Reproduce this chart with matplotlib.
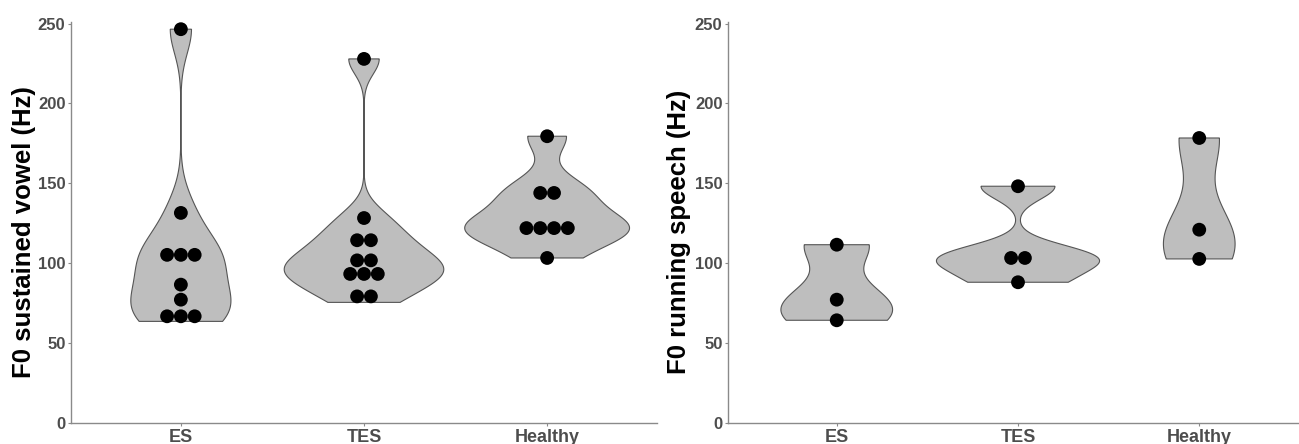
import numpy as np
import matplotlib
matplotlib.use("Agg")
import matplotlib.pyplot as plt
from matplotlib.patches import Polygon

plt.rcParams['font.family'] = ['Liberation Sans', 'DejaVu Sans']

groups = ["ES", "TES", "Healthy"]

# F0 sustained vowel (Hz)
vowel_es = [63.6, 67.0, 70.0, 77.2, 86.6, 102.5, 105.0, 108.0, 131.5, 246.5]
vowel_tes = [75.5, 83.0, 90.0, 93.0, 96.6, 99.0, 104.6, 111.0, 117.8, 128.3, 227.9]
vowel_healthy = [103.3, 118.5, 120.0, 123.0, 125.5, 142.0, 146.0, 179.5]

# F0 running speech (Hz)
speech_es = [64.3, 77.2, 111.6]
speech_tes = [88.1, 102.6, 104.0, 148.2]
speech_healthy = [102.7, 121.0, 178.4]

y_ticks = [0, 50, 100, 150, 200, 250]
binwidth = 8.0
dotsize = 1.08

W, H, DPI = 1299, 444, 100


def bw_nrd0(x):
    x = np.asarray(x, float)
    hi = np.std(x, ddof=1)
    q75, q25 = np.percentile(x, [75, 25])
    lo = min(hi, (q75 - q25) / 1.34)
    if not lo:
        lo = hi or abs(x[0]) or 1.0
    return 0.9 * lo * len(x) ** -0.2


def kde(x, grid):
    x = np.asarray(x, float)
    bw = bw_nrd0(x)
    z = (grid[:, None] - x[None, :]) / bw
    return np.exp(-0.5 * z ** 2).sum(axis=1) / (len(x) * bw * np.sqrt(2 * np.pi))


def dot_bins(vals, w):
    # same binning as ggplot's dotdensity
    v = sorted(vals)
    bins = []
    i = 0
    while i < len(v):
        end = v[i] + w
        grp = [a for a in v[i:] if a < end]
        bins.append(((grp[0] + grp[-1]) / 2, len(grp)))
        i += len(grp)
    return bins


def panel(ax, data, ylabel, baseline_x):
    grids = [np.linspace(min(d), max(d), 512) for d in data]
    dens = [kde(d, g) for d, g in zip(data, grids)]
    top = max(dd.max() for dd in dens)

    ax.set_xlim(0.4, 3.6)
    ax.set_ylim(0, 251)

    for i, (g, dd) in enumerate(zip(grids, dens)):
        pos = i + 1
        half = 0.45 * dd / top
        xs = np.concatenate([pos + half, (pos - half)[::-1]])
        ys = np.concatenate([g, g[::-1]])
        ax.add_patch(Polygon(np.column_stack([xs, ys]), closed=True,
                             facecolor='#bebebe', edgecolor='#555555', lw=0.8, zorder=2))

    # dot diameter in pixels, then in x units
    bbox = ax.get_window_extent()
    px_per_y = bbox.height / 251
    px_per_x = bbox.width / 3.2
    dia_px = binwidth * dotsize * px_per_y
    dx = dia_px / px_per_x
    size = (dia_px * 72 / DPI) ** 2

    for i, d in enumerate(data):
        pos = i + 1
        for center, n in dot_bins(d, binwidth):
            offs = np.arange(n) - (n - 1) / 2
            ax.scatter(pos + offs * dx, [center] * n, s=size, c='black',
                       edgecolors='none', zorder=3)

    for side in ['top', 'right']:
        ax.spines[side].set_visible(False)
    for side in ['left', 'bottom']:
        ax.spines[side].set_color('#8a8a8a')
        ax.spines[side].set_linewidth(1.0)

    ax.set_xticks([1, 2, 3])
    ax.set_xticklabels(groups, fontsize=13, fontweight='bold', color='#4d4d4d')
    ax.set_yticks(y_ticks)
    ax.set_yticklabels([str(t) for t in y_ticks], fontsize=12,
                       fontweight='bold', color='#4d4d4d')
    ax.tick_params(axis='both', length=2.5, width=0.8, color='#8a8a8a', pad=1.5)

    fig = ax.figure
    fig.text(baseline_x / W, 1 - 232 / H, ylabel, rotation=90, rotation_mode='anchor',
             ha='center', va='baseline', fontsize=18.5, fontweight='bold', color='black')


fig = plt.figure(figsize=(W / DPI, H / DPI), dpi=DPI)
ax1 = fig.add_axes([71 / W, 21 / H, 586 / W, 401 / H])
ax2 = fig.add_axes([728 / W, 21 / H, 580 / W, 401 / H])

panel(ax1, [vowel_es, vowel_tes, vowel_healthy], "F0 sustained vowel (Hz)", 31)
panel(ax2, [speech_es, speech_tes, speech_healthy], "F0 running speech (Hz)", 686)

fig.savefig("out.png", dpi=DPI)
